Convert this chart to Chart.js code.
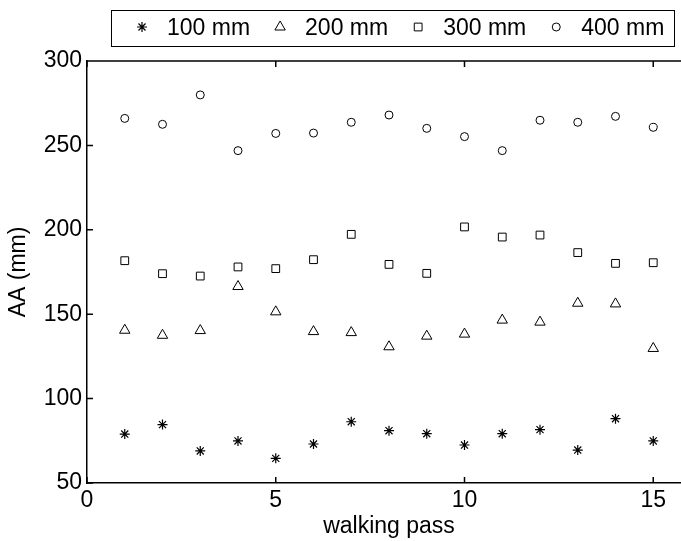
<!DOCTYPE html>
<html>
<head>
<meta charset="utf-8">
<script src="https://cdn.jsdelivr.net/npm/chart.js@4.4.1/dist/chart.umd.min.js"></script>
<style>
  html, body { margin: 0; padding: 0; background: #fff; overflow: hidden; }
  #wrap { width: 681px; height: 541px; overflow: hidden; }
</style>
</head>
<body>
<div id="wrap"><canvas id="chart" width="700" height="541"></canvas></div>
<script>
// walking pass number
const passes = [1, 2, 3, 4, 5, 6, 7, 8, 9, 10, 11, 12, 13, 14, 15];

// AA (mm), one array per height
const aa100 = [79.0, 84.6, 69.0, 74.9, 64.6, 73.1, 86.3, 81.0, 79.2, 72.5, 79.2, 81.6, 69.5, 88.1, 74.9];
const aa200 = [140.5, 137.5, 140.3, 166.4, 151.4, 139.7, 139.1, 130.7, 137.0, 138.2, 146.5, 145.3, 156.5, 156.1, 129.7];
const aa300 = [181.7, 174.0, 172.6, 178.0, 177.0, 182.3, 197.3, 179.5, 174.2, 201.7, 195.7, 196.9, 186.5, 180.1, 180.5];
const aa400 = [266.0, 262.5, 279.9, 246.9, 257.1, 257.3, 263.7, 268.0, 260.1, 255.2, 246.9, 264.9, 263.7, 267.2, 260.7];

const seriesLabels = ['100 mm', '200 mm', '300 mm', '400 mm'];
const xTicks = [0, 5, 10, 15];
const yTicks = [50, 100, 150, 200, 250, 300];

const FONT = '"Liberation Sans", Arial, sans-serif';
const markers = [
  { pointStyle: 'star', radius: 5, borderWidth: 1.2 },
  { pointStyle: 'triangle', radius: 6, borderWidth: 1 },
  { pointStyle: 'rect', radius: 5.5, borderWidth: 1 },
  { pointStyle: 'circle', radius: 4, borderWidth: 1 }
];

const toPoints = vals => vals.map((v, i) => ({ x: passes[i], y: v }));
const datasets = [aa100, aa200, aa300, aa400].map((vals, i) => ({
  label: seriesLabels[i],
  data: toPoints(vals),
  pointStyle: markers[i].pointStyle,
  pointRadius: markers[i].radius,
  pointBorderWidth: markers[i].borderWidth,
  pointBorderColor: '#000',
  pointBackgroundColor: 'rgba(0,0,0,0)',
  showLine: false
}));

// top border, inward ticks and the boxed legend, MATLAB style
const framePlugin = {
  id: 'frame',
  afterDraw(chart) {
    const { ctx, chartArea: a, scales: { x, y } } = chart;
    ctx.save();
    ctx.strokeStyle = '#000';
    ctx.lineWidth = 1.5;
    ctx.beginPath();
    ctx.moveTo(a.left, a.top);
    ctx.lineTo(a.right, a.top);
    xTicks.forEach(v => {
      const px = x.getPixelForValue(v);
      ctx.moveTo(px, a.bottom); ctx.lineTo(px, a.bottom - 6);
      ctx.moveTo(px, a.top); ctx.lineTo(px, a.top + 6);
    });
    yTicks.forEach(v => {
      const py = y.getPixelForValue(v);
      ctx.moveTo(a.left, py); ctx.lineTo(a.left + 6, py);
    });
    ctx.stroke();

    // legend
    const box = { left: 111, top: 10, right: 674, bottom: 46 };
    ctx.lineWidth = 1;
    ctx.strokeRect(box.left + 0.5, box.top + 0.5, box.right - box.left, box.bottom - box.top);
    ctx.font = '23px ' + FONT;
    ctx.textBaseline = 'middle';
    ctx.fillStyle = '#000';
    let mx = box.left + 31;
    chart.data.datasets.forEach((ds, i) => {
      ctx.save();
      ctx.strokeStyle = '#000';
      ctx.fillStyle = 'rgba(0,0,0,0)';
      ctx.lineWidth = markers[i].borderWidth;
      Chart.helpers.drawPoint(ctx, {
        pointStyle: markers[i].pointStyle,
        radius: markers[i].radius,
        rotation: 0,
        borderWidth: markers[i].borderWidth
      }, mx, 27);
      ctx.restore();
      const tx = mx + 25;
      ctx.fillText(ds.label, tx, 29);
      mx = tx + ctx.measureText(ds.label).width + 30;
    });
    ctx.restore();
  }
};

new Chart(document.getElementById('chart'), {
  type: 'scatter',
  data: { datasets },
  plugins: [framePlugin],
  options: {
    responsive: false,
    animation: false,
    layout: { padding: { top: 61, right: 9, bottom: 0, left: 0 } },
    plugins: { legend: { display: false }, tooltip: { enabled: false } },
    scales: {
      x: {
        type: 'linear',
        min: 0,
        max: 16,
        afterBuildTicks: s => { s.ticks = xTicks.map(v => ({ value: v })); },
        afterFit: s => { s.height = 58; },
        grid: { display: false, drawTicks: false },
        border: { display: true, color: '#000', width: 1.5 },
        ticks: { color: '#000', padding: 4, maxRotation: 0, font: { family: FONT, size: 23 } },
        title: { display: true, text: 'walking pass', color: '#000', padding: { top: 0, bottom: 1 }, font: { family: FONT, size: 23 } }
      },
      y: {
        min: 50,
        max: 300,
        afterBuildTicks: s => { s.ticks = yTicks.map(v => ({ value: v })); },
        afterFit: s => { s.width = 87; },
        grid: { display: false, drawTicks: false },
        border: { display: true, color: '#000', width: 1.5 },
        ticks: { color: '#000', padding: 5, font: { family: FONT, size: 23 } },
        title: { display: true, text: 'AA (mm)', color: '#000', padding: { top: 5, bottom: 0 }, font: { family: FONT, size: 23 } }
      }
    }
  }
});
</script>
</body>
</html>
